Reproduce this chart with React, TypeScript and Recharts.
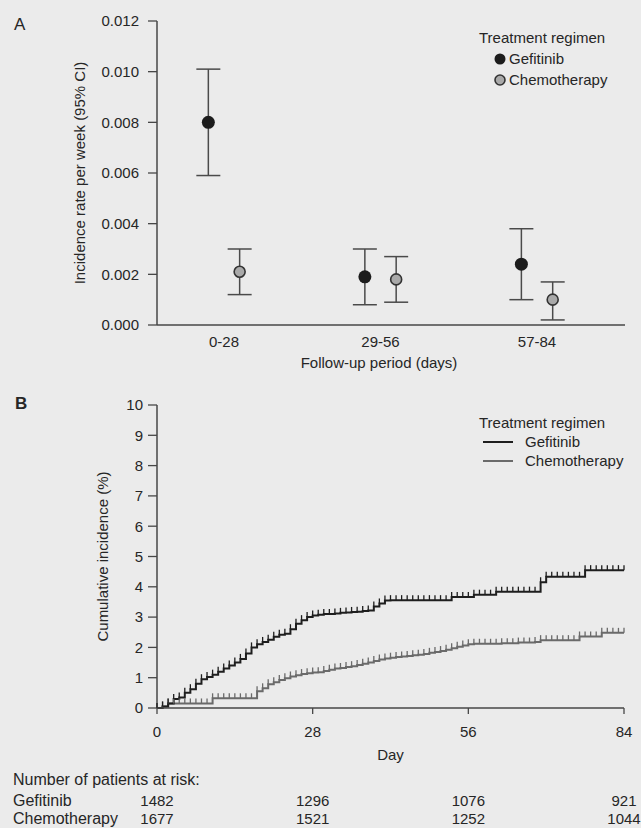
import React from 'react'
import {
  ScatterChart, Scatter, ErrorBar, LineChart, Line, XAxis, YAxis,
} from 'recharts'

// Panel A: incidence rate per week with 95% CI
const periods = ['0-28', '29-56', '57-84']
const gefRate = [0.0080, 0.0019, 0.0024]
const gefLow = [0.0059, 0.0008, 0.0010]
const gefHigh = [0.0101, 0.0030, 0.0038]
const chemoRate = [0.0021, 0.0018, 0.0010]
const chemoLow = [0.0012, 0.0009, 0.0002]
const chemoHigh = [0.0030, 0.0027, 0.0017]
const rateTicks = [0, 0.002, 0.004, 0.006, 0.008, 0.010, 0.012]

// Panel B: cumulative incidence (%) by day 0..84
const gefCum = [
  0, 0.05, 0.15, 0.3, 0.35, 0.5, 0.62, 0.8, 0.95, 1.02,
  1.1, 1.2, 1.3, 1.4, 1.5, 1.62, 1.8, 2.0, 2.1, 2.18,
  2.25, 2.35, 2.42, 2.45, 2.6, 2.78, 2.9, 3.0, 3.05, 3.08,
  3.1, 3.1, 3.12, 3.14, 3.15, 3.17, 3.18, 3.2, 3.22, 3.35,
  3.45, 3.55, 3.56, 3.56, 3.56, 3.56, 3.56, 3.56, 3.56, 3.56,
  3.56, 3.56, 3.56, 3.66, 3.66, 3.66, 3.66, 3.74, 3.74, 3.74,
  3.74, 3.84, 3.84, 3.84, 3.84, 3.84, 3.84, 3.84, 3.84, 4.15,
  4.33, 4.33, 4.33, 4.33, 4.33, 4.33, 4.33, 4.55, 4.55, 4.55,
  4.55, 4.55, 4.55, 4.55, 4.55,
]
const chemoCum = [
  0, 0.05, 0.15, 0.15, 0.15, 0.15, 0.15, 0.15, 0.15, 0.15,
  0.32, 0.32, 0.32, 0.32, 0.32, 0.32, 0.32, 0.32, 0.55, 0.65,
  0.78, 0.85, 0.92, 0.98, 1.04, 1.08, 1.12, 1.15, 1.17, 1.18,
  1.22, 1.26, 1.3, 1.32, 1.35, 1.38, 1.42, 1.46, 1.5, 1.55,
  1.6, 1.63, 1.66, 1.68, 1.7, 1.72, 1.74, 1.76, 1.78, 1.82,
  1.85, 1.88, 1.92, 1.97, 2.02, 2.06, 2.1, 2.12, 2.12, 2.12,
  2.12, 2.12, 2.14, 2.14, 2.14, 2.16, 2.16, 2.16, 2.18, 2.24,
  2.24, 2.24, 2.24, 2.24, 2.24, 2.24, 2.36, 2.36, 2.36, 2.36,
  2.48, 2.48, 2.48, 2.48, 2.48,
]
const dayTicks = [0, 28, 56, 84]
const cumTicks = [0, 1, 2, 3, 4, 5, 6, 7, 8, 9, 10]
const riskGef = [1482, 1296, 1076, 921]
const riskChemo = [1677, 1521, 1252, 1044]

const FONT = '"Liberation Sans", Arial, Helvetica, sans-serif'
const TXT = '#262626'
const AXIS = '#474747'
const DODGE = 0.1

const gefPts = periods.map((_, i) => ({
  x: i + 1 - DODGE, y: gefRate[i], err: [gefRate[i] - gefLow[i], gefHigh[i] - gefRate[i]],
}))
const chemoPts = periods.map((_, i) => ({
  x: i + 1 + DODGE, y: chemoRate[i], err: [chemoRate[i] - chemoLow[i], chemoHigh[i] - chemoRate[i]],
}))
const kmData = gefCum.map((v, d) => ({ day: d, gef: v, chemo: chemoCum[d] }))

const tick = { fontSize: 15, fill: TXT, fontFamily: FONT }

function LegendA() {
  return (
    <div style={{ position: 'absolute', left: 479, top: 27, fontFamily: FONT, fontSize: 15, color: TXT, lineHeight: '21px' }}>
      <div>Treatment regimen</div>
      <div style={{ display: 'flex', alignItems: 'center', paddingLeft: 14 }}>
        <svg width={16} height={14}><circle cx={7} cy={7} r={5.5} fill="#1c1c1c" /></svg>
        <span>Gefitinib</span>
      </div>
      <div style={{ display: 'flex', alignItems: 'center', paddingLeft: 14 }}>
        <svg width={16} height={14}><circle cx={7} cy={7} r={5} fill="#a9a9a9" stroke="#333" strokeWidth={1.6} /></svg>
        <span>Chemotherapy</span>
      </div>
    </div>
  )
}

function LegendB() {
  return (
    <div style={{ position: 'absolute', left: 479, top: 413, fontFamily: FONT, fontSize: 15, color: TXT, lineHeight: '19px' }}>
      <div>Treatment regimen</div>
      <div style={{ display: 'flex', alignItems: 'center', paddingLeft: 4 }}>
        <svg width={42} height={10}><line x1={0} x2={30} y1={5} y2={5} stroke="#1e1e1e" strokeWidth={2} /></svg>
        <span>Gefitinib</span>
      </div>
      <div style={{ display: 'flex', alignItems: 'center', paddingLeft: 4 }}>
        <svg width={42} height={10}><line x1={0} x2={30} y1={5} y2={5} stroke="#6a6a6a" strokeWidth={2} /></svg>
        <span>Chemotherapy</span>
      </div>
    </div>
  )
}

const censor = (color: string) => (p: any) => (
  <line key={`c${p.index}`} x1={p.cx} x2={p.cx} y1={p.cy - 5} y2={p.cy} stroke={color} strokeWidth={1.3} />
)

const rowLabel = (title: string | null, name: string, base: number) => (p: any) => (
  <g key={name} fontFamily={FONT} fill={TXT} fontSize={16}>
    {title && <text x={13} y={p.viewBox.y + 19}>{title}</text>}
    <text x={13} y={p.viewBox.y + base}>{name}</text>
  </g>
)

export default function App() {
  return (
    <div style={{ position: 'absolute', left: 0, top: 0, width: 641, height: 828, background: '#ebebeb', fontFamily: FONT, overflow: 'hidden' }}>
      <div style={{ position: 'absolute', left: 14, top: 15, fontSize: 17, color: TXT }}>A</div>
      <div style={{ position: 'absolute', left: 15, top: 394, fontSize: 17, fontWeight: 'bold', color: TXT }}>B</div>

      <div style={{ position: 'absolute', left: 0, top: 0 }}>
        <ScatterChart width={641} height={380} margin={{ top: 21, right: 16, left: 0, bottom: 0 }}>
          <XAxis
            dataKey="x" type="number" domain={[0.572, 3.562]} ticks={[1, 2, 3]}
            tickFormatter={(v: number) => periods[v - 1]}
            tick={tick} tickLine={false} tickSize={0} tickMargin={11} height={55}
            axisLine={{ stroke: AXIS, strokeWidth: 1.5 }}
            label={{ value: 'Follow-up period (days)', position: 'insideBottom', offset: 12, dx: -12, style: { fontSize: 15, fill: TXT, fontFamily: FONT } }}
          />
          <YAxis
            dataKey="y" type="number" domain={[0, 0.012]} ticks={rateTicks} width={157}
            tickFormatter={(v: number) => v.toFixed(3)}
            tick={tick} tickSize={9} tickMargin={9}
            axisLine={{ stroke: AXIS, strokeWidth: 1.5 }} tickLine={{ stroke: AXIS, strokeWidth: 1.3 }}
            label={{ value: 'Incidence rate per week (95% CI)', angle: -90, position: 'insideLeft', offset: 80, style: { textAnchor: 'middle', fontSize: 15, fill: TXT, fontFamily: FONT } }}
          />
          <Scatter data={gefPts} isAnimationActive={false}
            shape={(p: any) => <circle cx={p.cx} cy={p.cy} r={6.5} fill="#1c1c1c" />}>
            <ErrorBar dataKey="err" direction="y" width={12} stroke="#4a4a4a" strokeWidth={1.5} />
          </Scatter>
          <Scatter data={chemoPts} isAnimationActive={false}
            shape={(p: any) => <circle cx={p.cx} cy={p.cy} r={5.5} fill="#a9a9a9" stroke="#333" strokeWidth={1.6} />}>
            <ErrorBar dataKey="err" direction="y" width={12} stroke="#4a4a4a" strokeWidth={1.5} />
          </Scatter>
        </ScatterChart>
      </div>
      <LegendA />

      <div style={{ position: 'absolute', left: 0, top: 380 }}>
        <LineChart width={641} height={448} data={kmData} margin={{ top: 25, right: 17, left: 0, bottom: 0 }}>
          <XAxis
            xAxisId="a_day" dataKey="day" type="number" domain={[0, 84]} ticks={dayTicks}
            tick={tick} tickSize={6} tickMargin={12} height={58}
            axisLine={{ stroke: AXIS, strokeWidth: 1.5 }} tickLine={{ stroke: AXIS, strokeWidth: 1.3 }}
            label={{ value: 'Day', position: 'insideBottom', offset: 6, style: { fontSize: 15, fill: TXT, fontFamily: FONT } }}
          />
          <XAxis
            xAxisId="b_riskG" type="number" domain={[0, 84]} ticks={dayTicks}
            tickFormatter={(v: number) => String(riskGef[dayTicks.indexOf(v)])}
            tick={tick} axisLine={false} tickLine={false} tickSize={0} tickMargin={29} height={36}
            label={rowLabel('Number of patients at risk:', 'Gefitinib', 40)}
          />
          <XAxis
            xAxisId="c_riskC" type="number" domain={[0, 84]} ticks={dayTicks}
            tickFormatter={(v: number) => String(riskChemo[dayTicks.indexOf(v)])}
            tick={tick} axisLine={false} tickLine={false} tickSize={0} tickMargin={11} height={26}
            label={rowLabel(null, 'Chemotherapy', 22)}
          />
          <YAxis
            type="number" domain={[0, 10]} ticks={cumTicks} width={157}
            tick={tick} tickSize={9} tickMargin={5}
            axisLine={{ stroke: AXIS, strokeWidth: 1.5 }} tickLine={{ stroke: AXIS, strokeWidth: 1.3 }}
            label={{ value: 'Cumulative incidence (%)', angle: -90, position: 'insideLeft', offset: 103, style: { textAnchor: 'middle', fontSize: 15, fill: TXT, fontFamily: FONT } }}
          />
          <Line xAxisId="a_day" type="stepAfter" dataKey="chemo" stroke="#6a6a6a" strokeWidth={2}
            dot={censor('#6a6a6a')} activeDot={false} isAnimationActive={false} />
          <Line xAxisId="a_day" type="stepAfter" dataKey="gef" stroke="#1e1e1e" strokeWidth={2}
            dot={censor('#1e1e1e')} activeDot={false} isAnimationActive={false} />
        </LineChart>
      </div>
      <LegendB />
    </div>
  )
}
